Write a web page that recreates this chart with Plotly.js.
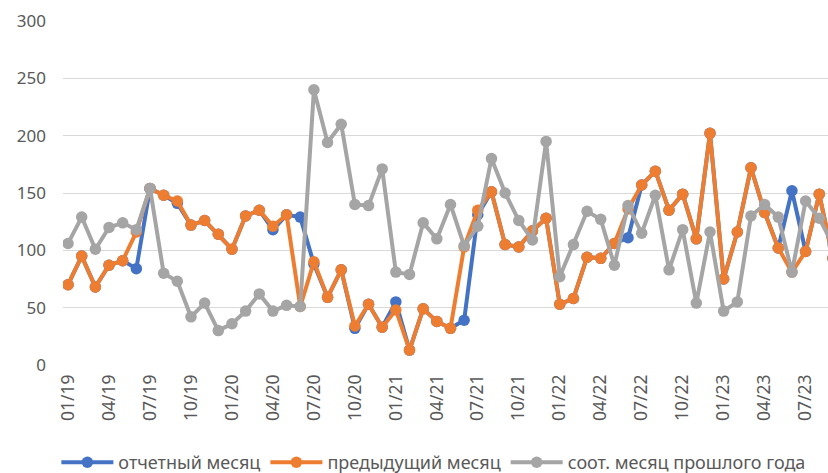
<!DOCTYPE html>
<html>
<head>
<meta charset="utf-8">
<script src="https://cdn.plot.ly/plotly-3.0.1.min.js"></script>
<style>html,body{margin:0;padding:0;background:#fff;}#chart{width:828px;height:473px;}</style>
</head>
<body>
<div id="chart"></div>
<script>
const months = [];
for (let y = 19; y <= 23; y++) {
  for (let m = 1; m <= 12; m++) {
    if (y === 23 && m > 9) break;
    months.push(String(m).padStart(2, '0') + '/' + y);
  }
}
const seriesNames = ['отчетный месяц', 'предыдущий месяц', 'соот. месяц прошлого года'];
const reportMonth = [70,95,68,87,91,84,154,148,141,122,126,114,101,130,135,118,131,129,88,59,83,32,53,33,55,13,49,38,32,39,131,151,105,103,117,128,53,58,94,93,106,111,157,169,135,149,110,202,75,116,172,133,102,152,99,149,93];
const prevMonth   = [70,95,68,87,91,116,154,148,143,122,126,114,101,130,135,121,131,51,90,59,83,34,53,33,48,13,49,38,32,103,135,151,105,103,117,128,53,58,94,93,106,136,157,169,135,149,110,202,75,116,172,133,102,81,99,149,93];
const lastYear    = [106,129,101,120,124,118,154,80,73,42,54,30,36,47,62,47,52,51,240,194,210,140,139,171,81,79,124,110,140,104,121,180,150,126,109,195,77,105,134,127,87,139,115,148,83,118,54,116,47,55,130,140,129,81,143,128,105];
const colors = ['#4472C4', '#ED7D31', '#A5A5A5'];
const tickVals = months.filter((_, i) => i % 3 === 0);

const traces = [reportMonth, prevMonth, lastYear].map((vals, k) => ({
  x: months, y: vals, name: seriesNames[k], type: 'scatter', mode: 'lines+markers',
  line: {color: colors[k], width: 4},
  marker: {color: colors[k], size: 11.5}
}));

const font = "'Noto Sans', sans-serif";
const layout = {
  width: 828, height: 473,
  margin: {l: 63, r: 0, t: 21, b: 108},
  paper_bgcolor: '#fff', plot_bgcolor: '#fff',
  font: {family: font, size: 16, color: '#595959'},
  showlegend: true,
  legend: {orientation: 'h', xref: 'container', x: 0.524, xanchor: 'center', yref: 'container', y: 0.022, yanchor: 'middle',
           font: {family: font, size: 18, color: '#595959'}, itemwidth: 52, tracegroupgap: 0},
  xaxis: {type: 'category', range: [-0.37, 55.64], tickmode: 'array', tickvals: tickVals, ticktext: tickVals,
          tickangle: -90, showgrid: false, zeroline: false, showline: false, ticks: '', ticklabelstandoff: 5,
          tickfont: {family: font, size: 17.5, color: '#595959'}},
  yaxis: {range: [0, 300], dtick: 50, showgrid: true, gridcolor: '#D9D9D9', gridwidth: 1.3, zeroline: false,
          showline: false, ticks: '', ticklabelstandoff: 16, tickfont: {family: font, size: 17, color: '#595959'}}
};
Plotly.newPlot('chart', traces, layout, {displayModeBar: false});
</script>
</body>
</html>
